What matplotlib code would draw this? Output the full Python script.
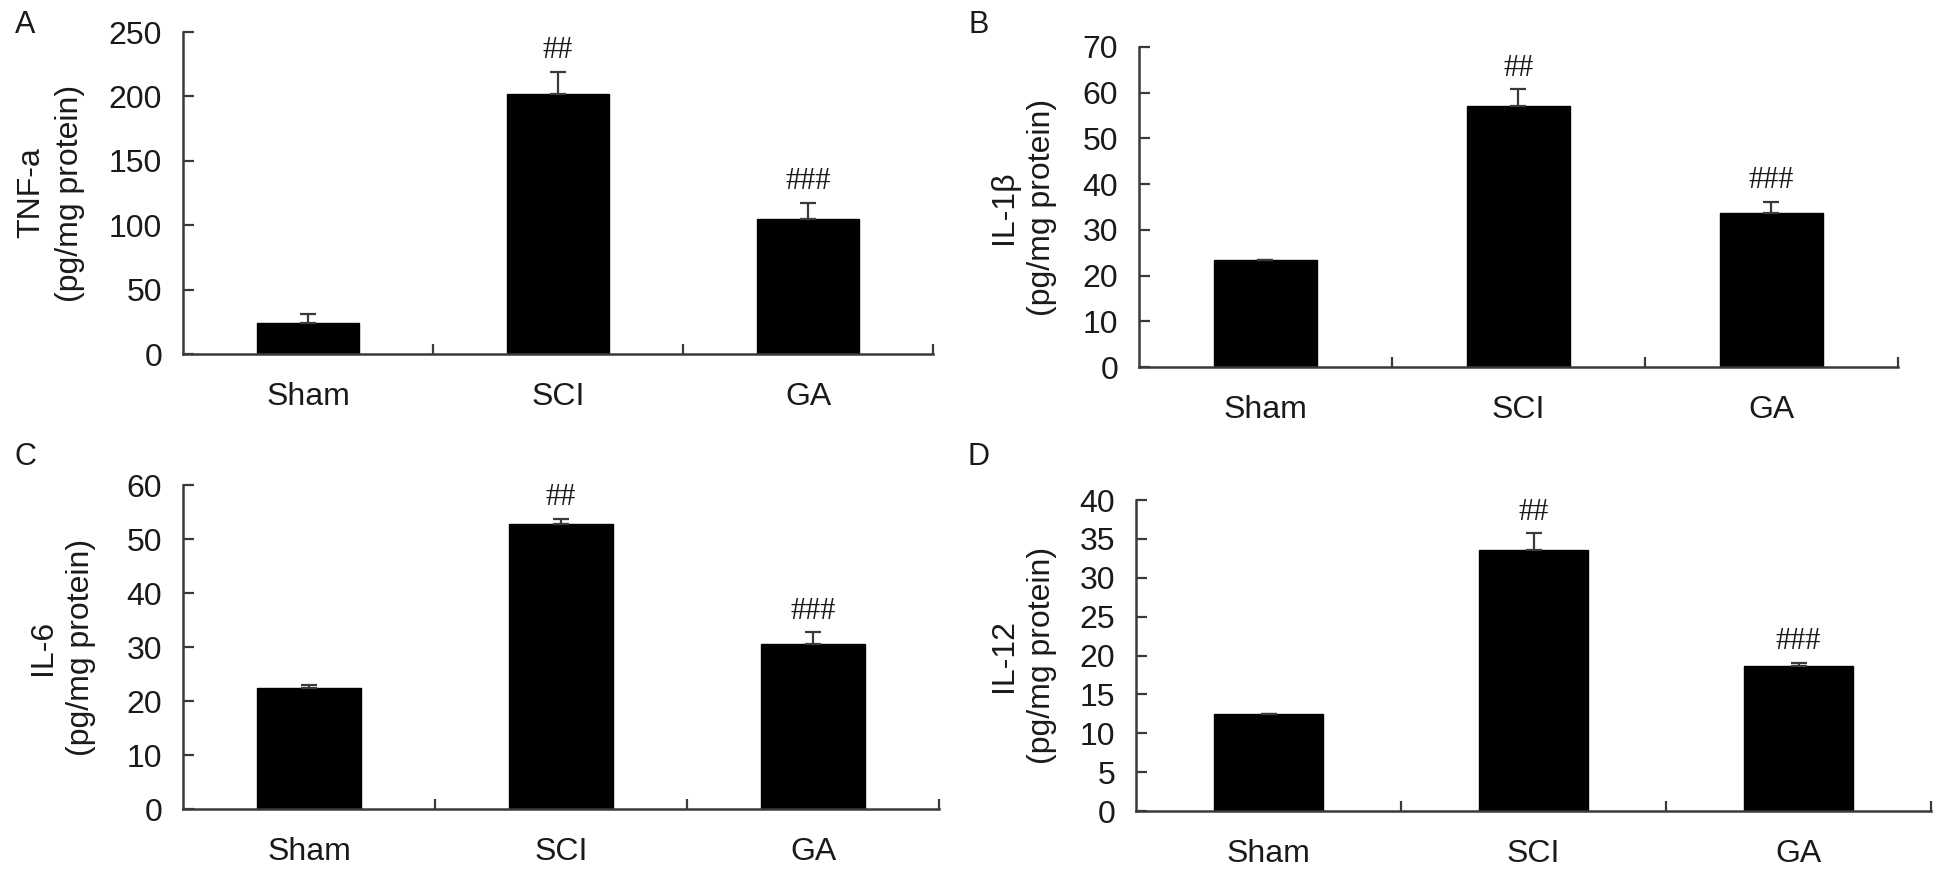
import matplotlib
matplotlib.use("Agg")
import matplotlib.pyplot as plt
import numpy as np

plt.rcParams['font.family'] = ['Liberation Sans', 'DejaVu Sans']
plt.rcParams['font.size'] = 23

groups = ["Sham", "SCI", "GA"]

tnf_mean = [24, 202, 105]
tnf_err = [7, 17, 12]
il1b_mean = [23.3, 57.0, 33.7]
il1b_err = [0, 3.7, 2.4]
il6_mean = [22.5, 52.7, 30.5]
il6_err = [0.4, 1.1, 2.2]
il12_mean = [12.5, 33.6, 18.6]
il12_err = [0, 2.1, 0.4]

marks = ["", "##", "###"]

panels = [
    # letter, name, mean, err, ymax, ystep, axes rect, label x, letter pos
    ("A", "TNF-a", tnf_mean, tnf_err, 250, 50, [0.0941, 0.5945, 0.3856, 0.3688], -0.131, (0.013, 0.971)),
    ("B", "IL-1\u03b2", il1b_mean, il1b_err, 70, 10, [0.5856, 0.5796, 0.3902, 0.3666], -0.108, (0.503, 0.971)),
    ("C", "IL-6", il6_mean, il6_err, 60, 10, [0.0941, 0.0733, 0.3887, 0.3711], -0.115, (0.013, 0.4765)),
    ("D", "IL-12", il12_mean, il12_err, 40, 5, [0.5841, 0.0710, 0.4087, 0.3562], -0.099, (0.503, 0.4765)),
]

fig = plt.figure(figsize=(19.45, 8.73), dpi=100)
axis_col = '#3a3a3a'
text_col = '#1a1a1a'

for letter, name, mean, err, ymax, ystep, rect, labx, lpos in panels:
    ax = fig.add_axes(rect)
    x = np.arange(len(groups))
    yerr = [np.zeros(len(err)), err]
    ax.bar(x, mean, width=0.41, color='black', edgecolor='black', zorder=2)
    ax.errorbar(x, mean, yerr=yerr, fmt='none', ecolor=axis_col,
                elinewidth=1.6, capsize=6, capthick=1.6, zorder=3)
    for xi, m, e, s in zip(x, mean, err, marks):
        if s:
            ax.annotate(s, (xi, m + e), xytext=(0, 5), textcoords='offset points',
                        ha='center', va='bottom', fontsize=22, color=text_col,
                        family=['Liberation Serif', 'DejaVu Serif'])
    ax.set_xlim(-0.5, 2.5)
    ax.set_ylim(0, ymax)
    ax.set_yticks(np.arange(0, ymax + 0.1, ystep))
    ax.set_xticks(x)
    ax.set_xticklabels(groups)
    ax.set_xticks([0.5, 1.5, 2.5], minor=True)
    ax.tick_params(axis='x', which='major', length=0, pad=20, colors=text_col)
    ax.tick_params(axis='x', which='minor', direction='in', length=7,
                   width=1.6, color=axis_col)
    ax.tick_params(axis='y', direction='in', length=8, width=1.6,
                   color=axis_col, labelcolor=text_col, pad=15)
    for side in ['top', 'right']:
        ax.spines[side].set_visible(False)
    for side in ['left', 'bottom']:
        ax.spines[side].set_color(axis_col)
        ax.spines[side].set_linewidth(1.8)
    ax.set_ylabel(name + "\n(pg/mg protein)", linespacing=1.35, color=text_col)
    ax.yaxis.set_label_coords(labx, 0.5)
    fig.text(lpos[0], lpos[1], letter, ha='center', va='center',
             fontsize=22, color=text_col)

plt.savefig("out.png", dpi=100)
